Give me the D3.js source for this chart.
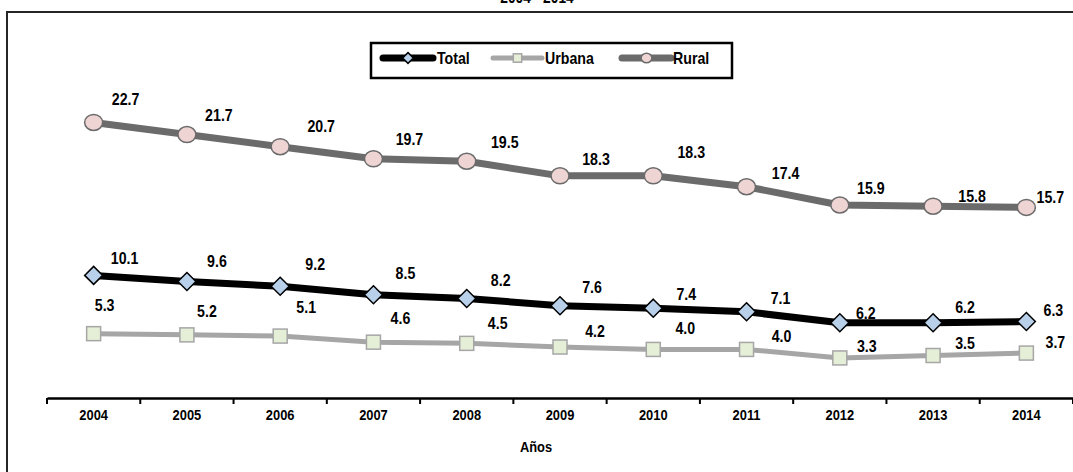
<!DOCTYPE html>
<html>
<head>
<meta charset="utf-8">
<script src="https://cdn.jsdelivr.net/npm/d3@7"></script>
<style>
  html, body { margin: 0; padding: 0; background: #fff; }
  svg { display: block; }
  text { font-family: "Liberation Sans", Arial, sans-serif; font-weight: bold; fill: #000; }
</style>
</head>
<body>
<svg id="chart" width="1073" height="472"></svg>
<script>
// ---- data ----
const years = ["2004","2005","2006","2007","2008","2009","2010","2011","2012","2013","2014"];
const total  = [10.1, 9.6, 9.2, 8.5, 8.2, 7.6, 7.4, 7.1, 6.2, 6.2, 6.3];
const urbana = [5.3, 5.2, 5.1, 4.6, 4.5, 4.2, 4.0, 4.0, 3.3, 3.5, 3.7];
const rural  = [22.7, 21.7, 20.7, 19.7, 19.5, 18.3, 18.3, 17.4, 15.9, 15.8, 15.7];
const seriesNames = ["Total", "Urbana", "Rural"];
const titleText = "2004 - 2014";
const xTitle = "Años";

// ---- label placement (layout, px offsets from each point) ----
const ruralLabelOffsets  = [[32,-23],[32,-19],[41,-21],[36,-20],[38,-19],[36,-17],[38,-24],[39,-14],[31,-17],[39,-10],[24,-10]];
const totalLabelOffsets  = [[31,-17],[30,-20],[35,-22],[32,-22],[34,-18],[32,-19],[33,-14],[34,-14],[26,-10],[32,-16],[27,-11]];
const urbanaLabelOffsets = [[11,-29],[20,-24],[26,-29],[27,-24],[31,-20],[35,-16],[32,-21],[35,-13],[27,-12],[32,-12],[29,-11]];

const svg = d3.select("#chart");
const W = 1073, H = 472;
const NARROW = 0.86;

// text helper emulating a condensed bold face
function ntext(parent, tx, ty, str, size, anchor, baseline) {
  const t = parent.append("text")
    .attr("transform", `translate(${tx},${ty}) scale(${NARROW},1)`)
    .attr("text-anchor", anchor || "middle")
    .style("font-size", size + "px")
    .text(str);
  if (baseline) t.attr("dominant-baseline", baseline);
  return t;
}

// outer frame
svg.append("rect").attr("x", 7).attr("y", 12).attr("width", W + 20).attr("height", H + 20)
  .attr("fill", "none").attr("stroke", "#262626").attr("stroke-width", 2);

// title (partially cut at the top, as in the reference)
ntext(svg, 537, 3, titleText, 16, "middle");

// scales
const x = d3.scaleBand().domain(years).range([47, 1073]).padding(0);
const y = d3.scaleLinear().domain([0, 25]).range([398, 398 - 25 * 12.14]);
const cx = d => x(d) + x.bandwidth() / 2;

// x axis
const axis = d3.axisBottom(x).tickSize(0).tickFormat(() => "");
const gAx = svg.append("g").attr("transform", "translate(0,398)").call(axis);
gAx.select(".domain").attr("stroke", "#000").attr("stroke-width", 2.5);
gAx.selectAll(".tick").each(function(d) {
  ntext(d3.select(this), 0, 17, d, 15, "middle", "central");
});
// boundary tick marks
const bounds = years.map(d => x(d)).concat([x(years[years.length - 1]) + x.bandwidth()]);
gAx.selectAll("line.bt").data(bounds).enter().append("line").attr("class", "bt")
  .attr("x1", d => d).attr("x2", d => d).attr("y1", 0).attr("y2", 6)
  .attr("stroke", "#000").attr("stroke-width", 2);

ntext(svg, 536, 447, xTitle, 15, "middle", "central");

const line = d3.line().x((d, i) => cx(years[i])).y(d => y(d));

const series = [
  { name: "Rural", values: rural, stroke: "#6b6b6b", sw: 7, marker: "circle", fill: "#efd4d4", mstroke: "#6b6b6b", offs: ruralLabelOffsets },
  { name: "Total", values: total, stroke: "#000000", sw: 7, marker: "diamond", fill: "#b8d0ea", mstroke: "#000", offs: totalLabelOffsets },
  { name: "Urbana", values: urbana, stroke: "#a6a6a6", sw: 5, marker: "square", fill: "#e5eed6", mstroke: "#a6a6a6", offs: urbanaLabelOffsets }
];

function drawMarker(g, type, px, py, fill, stroke, scale) {
  scale = scale || 1;
  if (type === "circle") {
    g.append("ellipse").attr("cx", px).attr("cy", py).attr("rx", 9 * scale).attr("ry", 8 * scale)
      .attr("fill", fill).attr("stroke", stroke).attr("stroke-width", 1.5);
  } else if (type === "diamond") {
    const s = 9 * scale;
    g.append("path").attr("d", `M${px},${py - s}L${px + s},${py}L${px},${py + s}L${px - s},${py}Z`)
      .attr("fill", fill).attr("stroke", stroke).attr("stroke-width", 1.5);
  } else {
    const s = 7 * scale;
    g.append("rect").attr("x", px - s).attr("y", py - s).attr("width", 2 * s).attr("height", 2 * s)
      .attr("fill", fill).attr("stroke", stroke).attr("stroke-width", 1.5);
  }
}

series.forEach(s => {
  const g = svg.append("g");
  g.append("path").datum(s.values).attr("d", line).attr("fill", "none")
    .attr("stroke", s.stroke).attr("stroke-width", s.sw).attr("stroke-linejoin", "round");
  s.values.forEach((v, i) => drawMarker(g, s.marker, cx(years[i]), y(v), s.fill, s.mstroke));
  s.values.forEach((v, i) => {
    ntext(g, cx(years[i]) + s.offs[i][0], y(v) + s.offs[i][1], v.toFixed(1), 16.5, "middle", "central");
  });
});

// legend
const lg = svg.append("g");
lg.append("rect").attr("x", 371).attr("y", 43).attr("width", 361).attr("height", 35)
  .attr("fill", "#fff").attr("stroke", "#000").attr("stroke-width", 2.5);
const legendItems = [
  { name: seriesNames[0], x0: 383, x1: 433, tx: 437, st: series[1] },
  { name: seriesNames[1], x0: 493, x1: 542, tx: 545, st: series[2] },
  { name: seriesNames[2], x0: 622, x1: 671, tx: 673, st: series[0] }
];
legendItems.forEach(it => {
  lg.append("line").attr("x1", it.x0).attr("x2", it.x1).attr("y1", 58).attr("y2", 58)
    .attr("stroke", it.st.stroke).attr("stroke-width", it.st.sw).attr("stroke-linecap", "round");
  drawMarker(lg, it.st.marker, (it.x0 + it.x1) / 2, 58, it.st.fill, it.st.mstroke, 0.6);
  ntext(lg, it.tx, 58, it.name, 16.5, "start", "central");
});
</script>
</body>
</html>
